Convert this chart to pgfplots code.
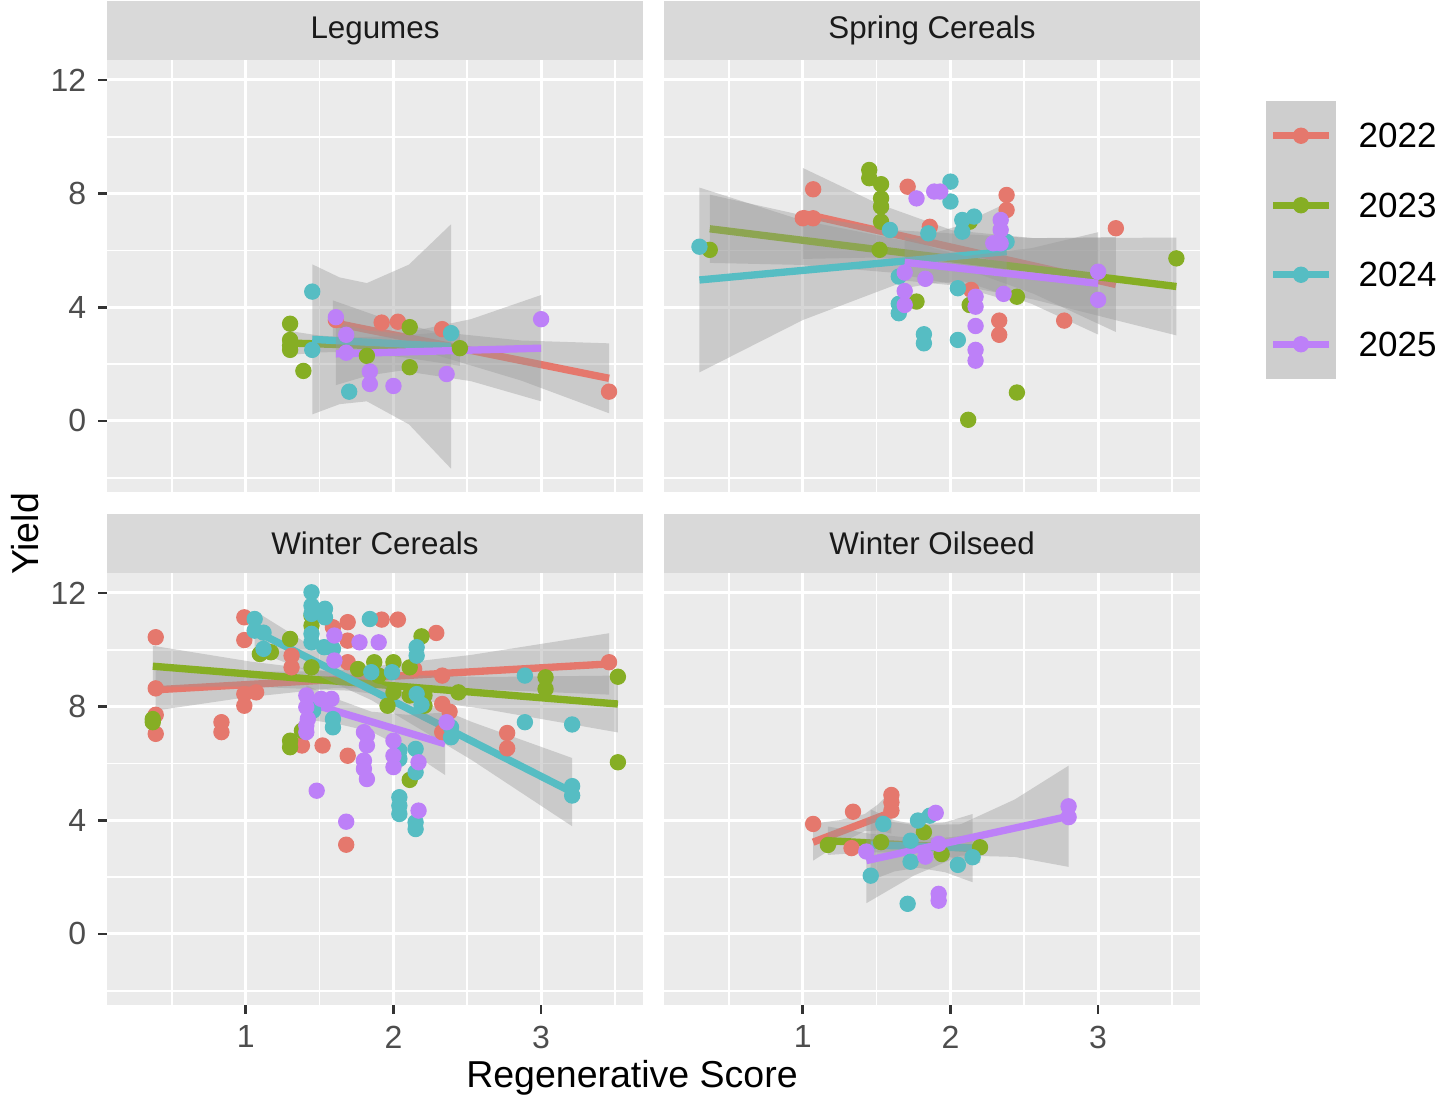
\documentclass[border=0pt]{standalone}
\usepackage{fontspec}
\setmainfont{Liberation Sans}
\usepackage{pgfplots}
\pgfplotsset{compat=1.18}

\definecolor{c22}{HTML}{E5786D}
\definecolor{c23}{HTML}{86AE24}
\definecolor{c24}{HTML}{56BDC3}
\definecolor{c25}{HTML}{BD80F8}
\definecolor{panelbg}{HTML}{EBEBEB}
\definecolor{stripbg}{HTML}{D9D9D9}
\definecolor{striptxt}{HTML}{1A1A1A}
\definecolor{tickc}{HTML}{333333}
\definecolor{ticklab}{HTML}{4D4D4D}
\definecolor{bandc}{HTML}{999999}
\definecolor{keybg}{HTML}{F2F2F2}

\pgfplotsset{
  facet/.style={
    scale only axis, width=160.8pt, height=129.6pt,
    xmin=0.06, xmax=3.69, ymin=-2.5, ymax=12.7,
    axis background/.style={fill=panelbg},
    axis line style={draw=none},
    xtick={1,2,3}, ytick={0,4,8,12},
    minor xtick={0.5,1.5,2.5,3.5}, minor ytick={-2,2,6,10},
    grid=both,
    major grid style={white, line width=0.9pt},
    minor grid style={white, line width=0.5pt},
    tick align=outside, major tick length=2.7pt, minor tick length=0pt,
    major tick style={tickc, line width=0.8pt},
    xtick pos=bottom, ytick pos=left,
    ticklabel style={font=\fontsize{9.6}{10}\selectfont, text=ticklab},
    /pgf/number format/assume math mode=true,
    every axis title shift=0pt,
    title style={at={(0.5,1)}, anchor=south, yshift=0pt, fill=stripbg,
      minimum width=160.8pt, minimum height=17.7pt, inner sep=0pt, outer sep=0pt,
      text=striptxt, font=\fontsize{9.4}{10}\selectfont},
  },
  notopx/.style={xticklabels={}, xtick style={draw=none}},
  norighty/.style={yticklabels={}, ytick style={draw=none}},
  pts/.style={only marks, color=#1, mark=*, mark size=2.3pt,
    mark options={solid, draw=#1, fill=#1, line width=0.3pt}, forget plot},
  band/.style={draw=none, fill=bandc, fill opacity=0.4, forget plot},
  fit/.style={draw=#1, line width=2.2pt, forget plot},
}

\begin{document}
\begin{tikzpicture}
\useasboundingbox (0,0) rectangle (432.9pt,328.5pt);

% ---------------- Legumes ----------------
\begin{axis}[facet, notopx, at={(32.1pt,180.9pt)}, anchor=south west, title={Legumes}]
\addplot[pts=c22] coordinates {(1.61,3.55) (1.92,3.46) (2.03,3.49) (2.33,3.23) (3.46,1.03)};
\addplot[pts=c23] coordinates {(1.30,3.42) (1.30,2.85) (1.30,2.65) (1.30,2.50) (1.39,1.76) (1.82,2.29) (2.11,3.30) (2.11,1.89) (2.45,2.56)};
\addplot[pts=c24] coordinates {(1.45,4.55) (1.45,2.50) (1.70,1.03) (2.39,3.09)};
\addplot[pts=c25] coordinates {(1.61,3.65) (1.68,3.03) (1.68,2.40) (1.84,1.74) (1.84,1.30) (2.00,1.23) (2.36,1.65) (3.00,3.58)};
\addplot[band] coordinates {(1.59,4.24) (1.93,3.62) (2.27,3.15) (2.865,2.83) (3.46,2.73) (3.46,0.27) (2.865,1.42) (2.27,2.35) (1.93,2.58) (1.59,2.68)} -- cycle;
\addplot[fit=c22] coordinates {(1.59,3.46) (3.46,1.50)};
\addplot[band] coordinates {(1.30,3.16) (1.49,3.01) (1.68,2.93) (2.065,3.00) (2.45,3.18) (2.45,1.94) (2.065,2.24) (1.68,2.43) (1.49,2.41) (1.30,2.32)} -- cycle;
\addplot[fit=c23] coordinates {(1.30,2.74) (2.45,2.56)};
\addplot[band] coordinates {(1.45,5.51) (1.635,5.05) (1.82,4.85) (2.105,5.50) (2.39,6.92) (2.39,-1.68) (2.105,-0.12) (1.82,0.69) (1.635,0.59) (1.45,0.23)} -- cycle;
\addplot[fit=c24] coordinates {(1.45,2.87) (2.39,2.62)};
\addplot[band] coordinates {(1.61,3.46) (1.83,3.18) (2.05,3.07) (2.525,3.58) (3.0,4.43) (3.0,0.69) (2.525,1.40) (2.05,1.77) (1.83,1.60) (1.61,1.26)} -- cycle;
\addplot[fit=c25] coordinates {(1.61,2.36) (3.0,2.56)};
\end{axis}

% ---------------- Spring Cereals ----------------
\begin{axis}[facet, notopx, norighty, at={(199.2pt,180.9pt)}, anchor=south west, title={Spring Cereals}]
\addplot[pts=c22] coordinates {(1.00,7.13) (1.07,7.13) (1.07,8.15) (1.71,8.24) (1.86,6.83) (2.38,7.95) (2.38,7.42) (2.14,4.61) (2.33,3.53) (2.33,3.03) (2.77,3.53) (3.12,6.78)};
\addplot[pts=c23] coordinates {(0.37,6.02) (1.45,8.83) (1.45,8.54) (1.53,8.33) (1.53,7.83) (1.53,7.54) (1.53,7.01) (1.52,6.02) (1.77,4.20) (2.13,7.01) (2.13,4.08) (2.45,4.37) (2.45,1.00) (2.12,0.04) (3.53,5.72)};
\addplot[pts=c24] coordinates {(0.30,6.13) (1.59,6.72) (1.85,6.60) (1.65,5.08) (1.65,4.12) (1.65,3.79) (1.82,3.05) (1.82,2.73) (2.00,8.42) (2.00,7.72) (2.08,7.07) (2.16,7.19) (2.08,6.66) (2.05,4.67) (2.05,2.85) (2.38,6.30)};
\addplot[pts=c25] coordinates {(1.77,7.83) (1.89,8.07) (1.93,8.07) (1.69,5.22) (1.83,5.00) (1.69,4.57) (1.69,4.08) (2.34,7.07) (2.34,6.72) (2.29,6.25) (2.34,6.25) (3.00,5.25) (3.00,4.26) (2.17,4.37) (2.17,4.02) (2.36,4.47) (2.17,3.34) (2.17,2.50) (2.17,2.12)};
\addplot[band] coordinates {(1.0,8.9) (1.505,7.65) (2.01,6.71) (2.565,6.43) (3.12,6.47) (3.12,3.13) (2.565,4.47) (2.01,5.51) (1.505,5.75) (1.0,5.70)} -- cycle;
\addplot[fit=c22] coordinates {(1.0,7.3) (3.12,4.8)};
\addplot[band] coordinates {(0.37,7.96) (0.985,7.25) (1.6,6.72) (2.565,6.43) (3.53,6.45) (3.53,3.01) (2.565,4.27) (1.6,5.22) (0.985,5.49) (0.37,5.56)} -- cycle;
\addplot[fit=c23] coordinates {(0.37,6.76) (3.53,4.73)};
\addplot[band] coordinates {(0.30,8.21) (1.0,7.05) (1.7,6.33) (2.04,6.84) (2.38,7.66) (2.38,4.26) (2.04,4.76) (1.7,4.93) (1.0,3.55) (0.30,1.71)} -- cycle;
\addplot[fit=c24] coordinates {(0.30,4.96) (2.38,5.96)};
\addplot[band] coordinates {(1.69,6.49) (1.895,6.06) (2.1,5.80) (2.55,6.08) (3.0,6.64) (3.0,3.04) (2.55,4.12) (2.1,4.90) (1.895,4.86) (1.69,4.67)} -- cycle;
\addplot[fit=c25] coordinates {(1.69,5.58) (3.0,4.84)};
\end{axis}

% ---------------- Winter Cereals ----------------
\begin{axis}[facet, at={(32.1pt,27pt)}, anchor=south west, title={Winter Cereals}]
\addplot[pts=c22] coordinates {(0.39,10.44) (0.39,8.64) (0.39,7.71) (0.39,7.04) (0.835,7.45) (0.835,7.10) (0.99,11.14) (0.99,10.34) (0.99,8.44) (0.99,8.03) (1.07,8.50) (1.31,9.79) (1.31,9.38) (1.38,6.63) (1.52,6.63) (1.59,10.79) (1.69,10.97) (1.69,10.32) (1.69,9.56) (1.69,6.27) (1.68,3.14) (1.92,11.06) (2.03,11.06) (2.29,10.59) (2.14,9.32) (2.33,9.09) (2.33,8.09) (2.38,7.82) (2.33,7.10) (2.77,7.07) (2.77,6.53) (3.46,9.56)};
\addplot[pts=c23] coordinates {(0.37,7.56) (0.37,7.45) (1.095,9.85) (1.17,9.91) (1.30,10.38) (1.445,9.38) (1.445,11.20) (1.445,10.85) (1.38,7.15) (1.30,6.80) (1.30,6.57) (1.76,9.32) (1.87,9.56) (2.00,9.56) (2.11,9.38) (1.90,9.09) (2.00,8.50) (2.11,8.39) (2.21,8.39) (1.96,8.03) (2.21,8.03) (2.44,8.50) (2.19,10.47) (2.11,5.42) (3.03,9.03) (3.03,8.62) (3.52,9.05) (3.52,6.04)};
\addplot[pts=c24] coordinates {(1.06,11.08) (1.06,10.67) (1.12,10.60) (1.12,10.03) (1.445,12.02) (1.445,11.55) (1.445,11.26) (1.536,11.44) (1.536,11.14) (1.445,10.56) (1.445,10.26) (1.53,10.09) (1.59,10.03) (1.456,7.86) (1.59,7.56) (1.59,7.27) (1.84,11.08) (1.85,9.21) (1.99,9.21) (2.157,10.09) (2.157,9.79) (2.157,8.44) (2.19,8.06) (2.39,7.27) (2.39,6.92) (2.04,6.45) (2.04,6.16) (2.15,6.51) (2.15,5.69) (2.04,4.81) (2.04,4.51) (2.04,4.22) (2.15,3.93) (2.15,3.69) (2.89,9.09) (2.89,7.45) (3.21,7.37) (3.21,5.20) (3.21,4.87)};
\addplot[pts=c25] coordinates {(1.60,10.50) (1.60,9.62) (1.41,8.39) (1.41,7.98) (1.42,7.56) (1.41,7.33) (1.41,7.10) (1.51,8.27) (1.58,8.27) (1.77,10.26) (1.90,10.26) (1.80,7.10) (1.82,6.98) (1.82,6.63) (1.80,6.10) (1.80,5.81) (1.82,5.45) (1.48,5.04) (1.68,3.95) (2.00,6.80) (2.00,6.27) (2.00,5.87) (2.17,6.04) (2.17,4.34) (2.36,7.45)};
\addplot[band] coordinates {(0.39,9.32) (0.995,9.22) (1.6,9.25) (2.53,9.82) (3.46,10.58) (3.46,8.42) (2.53,8.62) (1.6,8.65) (0.995,8.32) (0.39,7.86)} -- cycle;
\addplot[fit=c22] coordinates {(0.39,8.59) (3.46,9.50)};
\addplot[band] coordinates {(0.37,10.14) (1.035,9.58) (1.7,9.16) (2.61,9.04) (3.52,9.09) (3.52,7.09) (2.61,7.92) (1.7,8.56) (1.035,8.70) (0.37,8.70)} -- cycle;
\addplot[fit=c23] coordinates {(0.37,9.42) (3.52,8.09)};
\addplot[band] coordinates {(1.06,11.37) (1.455,10.09) (1.85,8.93) (2.53,7.46) (3.21,6.19) (3.21,3.79) (2.53,6.12) (1.85,8.23) (1.455,9.17) (1.06,9.97)} -- cycle;
\addplot[fit=c24] coordinates {(1.06,10.67) (3.21,4.99)};
\addplot[band] coordinates {(1.41,8.75) (1.63,8.24) (1.85,7.82) (2.10,7.71) (2.35,7.79) (2.35,5.59) (2.10,6.45) (1.85,7.12) (1.63,7.38) (1.41,7.55)} -- cycle;
\addplot[fit=c25] coordinates {(1.41,8.15) (2.35,6.69)};
\end{axis}

% ---------------- Winter Oilseed ----------------
\begin{axis}[facet, norighty, at={(199.2pt,27pt)}, anchor=south west, title={Winter Oilseed}]
\addplot[pts=c22] coordinates {(1.07,3.87) (1.34,4.30) (1.60,4.89) (1.60,4.63) (1.60,4.34) (1.33,3.02)};
\addplot[pts=c23] coordinates {(1.17,3.13) (1.53,3.23) (1.82,3.58) (1.94,2.81) (2.20,3.05)};
\addplot[pts=c24] coordinates {(1.545,3.87) (1.78,3.99) (1.86,4.16) (1.73,3.28) (1.73,2.54) (1.46,2.05) (1.71,1.06) (2.05,2.43) (2.15,2.70)};
\addplot[pts=c25] coordinates {(1.90,4.26) (1.43,2.90) (1.92,3.17) (1.83,2.72) (1.92,1.41) (1.92,1.17) (2.80,4.49) (2.80,4.11)};
\addplot[band] coordinates {(1.07,3.88) (1.245,4.00) (1.42,4.22) (1.51,4.56) (1.60,5.03) (1.60,3.53) (1.51,3.64) (1.42,3.62) (1.245,3.16) (1.07,2.58)} -- cycle;
\addplot[fit=c22] coordinates {(1.07,3.23) (1.60,4.28)};
\addplot[band] coordinates {(1.17,3.78) (1.45,3.53) (1.73,3.38) (1.965,3.39) (2.20,3.50) (2.20,2.50) (1.965,2.73) (1.73,2.88) (1.45,2.87) (1.17,2.78)} -- cycle;
\addplot[fit=c23] coordinates {(1.17,3.28) (2.20,3.00)};
\addplot[band] coordinates {(1.46,4.38) (1.62,4.00) (1.78,3.83) (1.965,3.93) (2.15,4.22) (2.15,1.82) (1.965,2.17) (1.78,2.33) (1.62,2.20) (1.46,1.88)} -- cycle;
\addplot[fit=c24] coordinates {(1.46,3.13) (2.15,3.02)};
\addplot[band] coordinates {(1.43,4.08) (1.75,3.83) (2.07,3.86) (2.435,4.73) (2.80,5.92) (2.80,2.36) (2.435,2.71) (2.07,2.76) (1.75,2.05) (1.43,1.08)} -- cycle;
\addplot[fit=c25] coordinates {(1.43,2.58) (2.80,4.14)};
\end{axis}

% ---------------- legend ----------------
\begin{axis}[at={(379.8pt,214.8pt)}, anchor=south west,
  scale only axis, width=21pt, height=83.4pt,
  xmin=-0.5, xmax=0.5, ymin=0.5, ymax=4.5,
  axis background/.style={fill=keybg},
  axis line style={draw=none},
  xtick=\empty, ytick={1,2,3,4}, yticklabels={2025,2024,2023,2022},
  yticklabel pos=right, major tick length=0pt,
  yticklabel style={anchor=west, inner sep=0pt, xshift=6.6pt, font=\fontsize{10.5}{11}\selectfont, text=black},
]
\addplot[pts=c22] coordinates {(0,4)};
\addplot[pts=c23] coordinates {(0,3)};
\addplot[pts=c24] coordinates {(0,2)};
\addplot[pts=c25] coordinates {(0,1)};
\addplot[band] coordinates {(-0.5,0.5) (0.5,0.5) (0.5,4.5) (-0.5,4.5)} -- cycle;
\addplot[fit=c22] coordinates {(-0.4,4) (0.4,4)};
\addplot[fit=c23] coordinates {(-0.4,3) (0.4,3)};
\addplot[fit=c24] coordinates {(-0.4,2) (0.4,2)};
\addplot[fit=c25] coordinates {(-0.4,1) (0.4,1)};
\end{axis}

\node[rotate=90, anchor=base, font=\fontsize{11.25}{12}\selectfont] at (11.4pt,168.3pt) {Yield};
\node[anchor=base, font=\fontsize{11.25}{12}\selectfont] at (189.6pt,2.1pt) {Regenerative Score};
\end{tikzpicture}
\end{document}
